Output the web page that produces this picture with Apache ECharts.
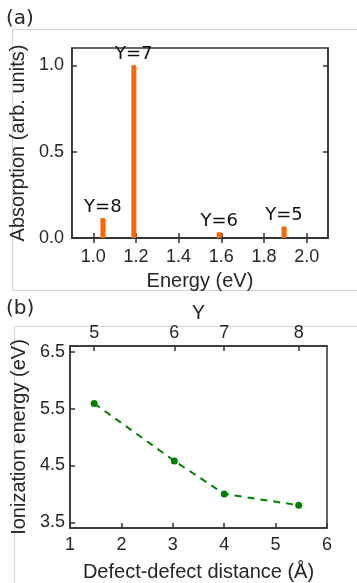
<!DOCTYPE html>
<html>
<head>
<meta charset="utf-8">
<script src="https://cdn.jsdelivr.net/npm/echarts@6/dist/echarts.min.js"></script>
<style>
html,body{margin:0;padding:0;background:#fff;}
#chart{width:357px;height:583px;}
</style>
</head>
<body>
<div id="chart"></div>
<script>
// Panel (a): absorption peaks
const energies = [1.045, 1.19, 1.59, 1.894];
const absorption = [0.115, 1.0, 0.033, 0.066];
const peakLabels = ['Y=8', 'Y=7', 'Y=6', 'Y=5'];
const energyTicks = [1.0, 1.2, 1.4, 1.6, 1.8, 2.0];
const absorptionTicks = [0, 0.5, 1.0];

// Panel (b): ionization energy vs defect distance
const distances = [1.47, 3.03, 4.0, 5.45];
const ionization = [5.59, 4.58, 4.0, 3.80];
const yValues = [5, 6, 7, 8];
const distanceTicks = [1, 2, 3, 4, 5, 6];
const ionTicks = [3.5, 4.5, 5.5, 6.5];

const TXT = '#262626';
const AX = '#333333';
const FONT = 'Liberation Sans, Arial, sans-serif';

const chart = echarts.init(document.getElementById('chart'), null, {renderer: 'canvas'});

function axisCommon(extra) {
  return Object.assign({
    axisLine: {show: true, lineStyle: {color: AX, width: 1.5}},
    splitLine: {show: false},
    nameTextStyle: {color: TXT, fontSize: 20, fontFamily: FONT},
  }, extra);
}

const option = {
  animation: false,
  backgroundColor: '#fff',
  graphic: [
    {type: 'rect', shape: {x: 12.5, y: 29.5, width: 400, height: 261}, style: {fill: 'none', stroke: '#d4d4d4', lineWidth: 1}, z: -10},
    {type: 'rect', shape: {x: 14.5, y: 326.5, width: 400, height: 300}, style: {fill: 'none', stroke: '#d4d4d4', lineWidth: 1}, z: -10},
    {type: 'text', left: 6, top: 9, style: {text: '(a)', fontSize: 20, fontFamily: 'DejaVu Sans', fill: TXT}},
    {type: 'text', left: 6, top: 299, style: {text: '(b)', fontSize: 20, fontFamily: 'DejaVu Sans', fill: TXT}}
  ],
  grid: [
    {left: 70, top: 48, width: 258, height: 190, show: true, borderColor: AX, borderWidth: 1.5, backgroundColor: 'transparent'},
    {left: 70, top: 346, width: 257, height: 188, show: true, borderColor: AX, borderWidth: 1.5, backgroundColor: 'transparent'}
  ],
  xAxis: [
    axisCommon({
      type: 'value', gridIndex: 0, position: 'bottom', min: 0.9, max: 2.1,
      name: 'Energy (eV)', nameLocation: 'middle', nameGap: 33,
      axisTick: {show: true, inside: true, length: 5, customValues: energyTicks, lineStyle: {color: AX, width: 1.5}},
      axisLabel: {customValues: energyTicks, margin: 10, color: TXT, fontSize: 18, fontFamily: FONT,
        formatter: v => Number(v).toFixed(1)}
    }),
    axisCommon({
      type: 'value', gridIndex: 0, position: 'top', min: 0.9, max: 2.1,
      axisTick: {show: true, inside: true, length: 5, customValues: energyTicks, lineStyle: {color: AX, width: 1.5}},
      axisLabel: {show: false}
    }),
    axisCommon({
      type: 'value', gridIndex: 1, position: 'bottom', min: 1, max: 6,
      name: 'Defect-defect distance (Å)', nameLocation: 'middle', nameGap: 34,
      axisTick: {show: true, inside: true, length: 5, customValues: distanceTicks, lineStyle: {color: AX, width: 1.5}},
      axisLabel: {customValues: distanceTicks, margin: 8, color: TXT, fontSize: 18, fontFamily: FONT,
        formatter: v => String(v)}
    }),
    axisCommon({
      type: 'value', gridIndex: 1, position: 'top', min: 1, max: 6,
      name: 'Y', nameLocation: 'middle', nameGap: 20,
      axisTick: {show: true, inside: true, length: 5, customValues: distances, lineStyle: {color: AX, width: 1.5}},
      axisLabel: {customValues: distances, margin: 4, color: TXT, fontSize: 18, fontFamily: FONT,
        formatter: v => {
          let best = 0;
          distances.forEach((d, i) => { if (Math.abs(d - v) < Math.abs(distances[best] - v)) best = i; });
          return String(yValues[best]);
        }}
    })
  ],
  yAxis: [
    axisCommon({
      type: 'value', gridIndex: 0, position: 'left', min: 0, max: 1.1,
      name: 'Absorption (arb. units)', nameLocation: 'middle', nameGap: 32,
      axisTick: {show: true, inside: true, length: 5, customValues: absorptionTicks, lineStyle: {color: AX, width: 1.5}},
      axisLabel: {customValues: absorptionTicks, margin: 8, color: TXT, fontSize: 18, fontFamily: FONT,
        formatter: v => Number(v).toFixed(1)}
    }),
    axisCommon({
      type: 'value', gridIndex: 0, position: 'right', min: 0, max: 1.1,
      axisTick: {show: true, inside: true, length: 5, customValues: absorptionTicks, lineStyle: {color: AX, width: 1.5}},
      axisLabel: {show: false}
    }),
    axisCommon({
      type: 'value', gridIndex: 1, position: 'left', min: 3.4, max: 6.6,
      name: 'Ionization energy (eV)', nameLocation: 'middle', nameGap: 33,
      axisTick: {show: true, inside: true, length: 5, customValues: ionTicks, lineStyle: {color: AX, width: 1.5}},
      axisLabel: {customValues: ionTicks, margin: 5, color: TXT, fontSize: 18, fontFamily: FONT,
        formatter: v => Number(v).toFixed(1)}
    })
  ],
  series: [
    {
      type: 'bar', xAxisIndex: 0, yAxisIndex: 0,
      data: energies.map((e, i) => [e, absorption[i]]),
      barWidth: 5,
      itemStyle: {color: '#ff6600'},
      label: {show: true, position: 'top', distance: 2, color: '#111', fontSize: 18, fontFamily: 'DejaVu Sans',
        formatter: p => peakLabels[p.dataIndex]}
    },
    {
      type: 'line', xAxisIndex: 2, yAxisIndex: 2,
      data: distances.map((d, i) => [d, ionization[i]]),
      symbol: 'circle', symbolSize: 7,
      itemStyle: {color: '#008000'},
      lineStyle: {color: '#008000', width: 2, type: [7, 6]}
    }
  ]
};
chart.setOption(option);
</script>
</body>
</html>
